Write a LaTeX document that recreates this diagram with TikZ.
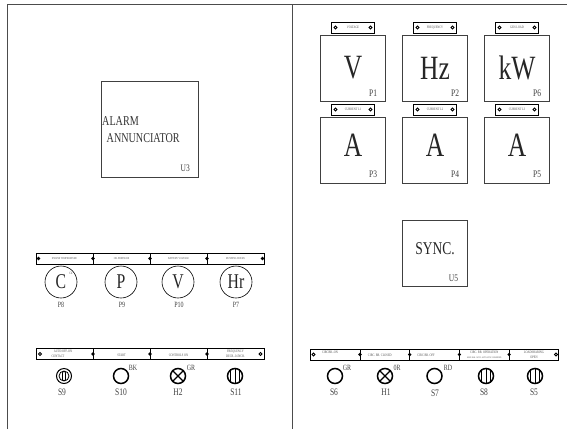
\documentclass[tikz,border=0pt]{standalone}
\usepackage{fontspec}
\setmainfont[FakeStretch=0.75]{Liberation Serif}
\usepackage{tikz}
\usetikzlibrary{positioning}

\tikzset{
	meterbox/.style = {draw=black!75, line width=0.7pt, rectangle, minimum width=64.5pt, minimum height=66pt, outer sep=0pt, inner sep=0pt, text=black!85, font=\fontsize{34}{34}\selectfont},
	tagplate/.style = {draw=black, line width=0.7pt, rectangle, minimum width=42.5pt, minimum height=11pt, outer sep=0pt, inner sep=0pt, text=black!70, font=\fontsize{3.6}{4}\selectfont},
	stripcell/.style = {draw=black, line width=0.7pt, rectangle, minimum height=11pt, outer sep=0pt, inner sep=0pt, align=center, text=black!70, font=\fontsize{3.7}{4.6}\selectfont},
	dial/.style = {draw=black, line width=0.6pt, circle, minimum size=32pt, inner sep=0pt, text=black!85, font=\fontsize{21}{21}\selectfont},
	pushbtn/.style = {draw=black, line width=1.5pt, circle, minimum size=15pt, inner sep=0pt},
	tagname/.style = {inner sep=0pt, text=black!75, font=\fontsize{10}{11}\selectfont},
	colourname/.style = {inner sep=0pt, text=black!75, font=\fontsize{8}{9}\selectfont},
	ringscrew/.style = {draw=black, fill=white, line width=0.9pt, circle, minimum size=3pt, inner sep=0pt},
	dotscrew/.style = {fill=black, circle, minimum size=3.6pt, inner sep=0pt}
}

\begin{document}
\begin{tikzpicture}[x=1pt, y=-1pt]
	\useasboundingbox (0,0) rectangle (567,429);
	% panel frame
	\coordinate (fa) at (7,429);
	\coordinate (fb) at (7,4);
	\coordinate (fc) at (567,4);
	\coordinate (fd) at (292.5,4);
	\coordinate (fe) at (292.5,429);
	\draw[black!70, line width=0.8pt] (fa) -- (fb) -- (fc);
	\draw[black!70, line width=0.8pt] (fd) -- (fe);

	% annunciator
	\node [meterbox, minimum width=97pt, minimum height=96pt] (u3) at (149.5,129) {};
	\node [inner sep=0pt, text=black!80, font=\fontsize{13.5}{14}\selectfont, anchor=west] (alarm) at (102,121) {ALARM};
	\node [inner sep=0pt, text=black!80, font=\fontsize{13.5}{14}\selectfont, anchor=west] (annun) at (106.5,138) {ANNUNCIATOR};
	\node [tagname, above left=5pt and 8pt of u3.south east] (u3t) {U3};

	% left gauge strip
	\node [stripcell, font=\fontsize{3}{4}\selectfont, minimum width=57pt] (g1) at (64.5,258.5) {ENGINE TEMPERATURE};
	\node [stripcell, font=\fontsize{3}{4}\selectfont, minimum width=57pt, right=0pt of g1] (g2) {OIL PRESSURE};
	\node [stripcell, font=\fontsize{3}{4}\selectfont, minimum width=57pt, right=0pt of g2] (g3) {BATTERY VOLTAGE};
	\node [stripcell, font=\fontsize{3}{4}\selectfont, minimum width=57pt, right=0pt of g3] (g4) {RUNNING HOURS};
	\node [dotscrew] (gs1) at (38.5,258.5) {};
	\node [dotscrew] at (g1.east) {};
	\node [dotscrew] at (g2.east) {};
	\node [dotscrew] at (g3.east) {};
	\node [dotscrew] (gs5) at (262.5,258.5) {};

	\node [dial] (p8) at (61,282) {C};
	\node [dial] (p9) at (121,282) {P};
	\node [dial] (p10) at (178,282) {V};
	\node [dial] (p7) at (236,282) {Hr};
	\node [colourname, font=\fontsize{3.5}{4}\selectfont] (p8c) at (71,273) {C4};
	\node [tagname, font=\fontsize{8}{9}\selectfont] (p8t) at (61,305) {P8};
	\node [tagname, font=\fontsize{8}{9}\selectfont] (p9t) at (122,305) {P9};
	\node [tagname, font=\fontsize{8}{9}\selectfont] (p10t) at (179,305) {P10};
	\node [tagname, font=\fontsize{8}{9}\selectfont] (p7t) at (236,305) {P7};

	% left switch strip
	\node [stripcell, minimum width=57pt] (c1) at (64.5,354) {AUTO/OFF-ON\hspace*{3pt}\\CONTACT\hspace*{13pt}};
	\node [stripcell, minimum width=57pt, right=0pt of c1] (c2) {\\START};
	\node [stripcell, minimum width=57pt, right=0pt of c2] (c3) {\\CONTROLS ON};
	\node [stripcell, minimum width=57pt, right=0pt of c3] (c4) {FREQUENCY\\DECR.-0-INCR.};
	\node [ringscrew] (cs1) at (40,354) {};
	\node [dotscrew] at (c1.east) {};
	\node [dotscrew] at (c2.east) {};
	\node [dotscrew] at (c3.east) {};
	\node [ringscrew] (cs5) at (260.5,354) {};

	\node [pushbtn, line width=1pt] (s9) at (64,376) {};
	\node [draw=black, line width=0.8pt, circle, minimum size=10pt, inner sep=0pt] (s9i) at (64,376) {};
	\node [draw=black, fill=white, line width=0.7pt, rectangle, rounded corners=1pt, minimum width=3pt, minimum height=9pt, inner sep=0pt] (s9k) at (64,376) {};
	\node [pushbtn] (s10) at (121,376) {};
	\node [pushbtn] (h2) at (178,376) {};
	\node [pushbtn] (s11) at (235,376) {};
	\draw[line width=1.1pt] (h2.45) -- (h2.225);
	\draw[line width=1.1pt] (h2.135) -- (h2.315);
	\draw[line width=1.2pt] (s11.120) -- (s11.240);
	\draw[line width=0.6pt] (s11.90) -- (s11.270);
	\draw[line width=1.2pt] (s11.60) -- (s11.300);
	\node [tagname] (s9t) at (62,392) {S9};
	\node [tagname] (s10t) at (121,392) {S10};
	\node [tagname] (h2t) at (178,392) {H2};
	\node [tagname] (s11t) at (236,392) {S11};
	\node [colourname] (s10c) at (133,367.5) {BK};
	\node [colourname] (h2c) at (191,367.5) {GR};

	% meters
	\node [meterbox] (p1) at (353,68) {V};
	\node [meterbox, right=17.5pt of p1] (p2) {Hz};
	\node [meterbox, right=17.5pt of p2] (p6) {kW};
	\node [meterbox, text depth=10pt, below=16pt of p1] (p3) {A};
	\node [meterbox, text depth=10pt, below=16pt of p2] (p4) {A};
	\node [meterbox, text depth=10pt, below=16pt of p6] (p5) {A};
	\node [tagname, above left=4pt and 8pt of p1.south east] (p1t) {P1};
	\node [tagname, above left=4pt and 8pt of p2.south east] (p2t) {P2};
	\node [tagname, above left=4pt and 8pt of p6.south east] (p6t) {P6};
	\node [tagname, above left=5pt and 8pt of p3.south east] (p3t) {P3};
	\node [tagname, above left=5pt and 8pt of p4.south east] (p4t) {P4};
	\node [tagname, above left=5pt and 8pt of p5.south east] (p5t) {P5};

	% meter tags
	\node [tagplate, above=2pt of p1] (v1) {VOLTAGE};
	\node [tagplate, above=2pt of p2] (v2) {FREQUENCY};
	\node [tagplate, above=2pt of p6] (v6) {GEN.LOAD};
	\node [tagplate, above=2pt of p3] (v3) {CURRENT L1};
	\node [tagplate, above=2pt of p4] (v4) {CURRENT L2};
	\node [tagplate, above=2pt of p5] (v5) {CURRENT L3};
	\node [ringscrew, right=1.8pt of v1.west] {};
	\node [ringscrew, left=1.8pt of v1.east] {};
	\node [ringscrew, right=1.8pt of v2.west] {};
	\node [ringscrew, left=1.8pt of v2.east] {};
	\node [ringscrew, right=1.8pt of v6.west] {};
	\node [ringscrew, left=1.8pt of v6.east] {};
	\node [ringscrew, right=1.8pt of v3.west] {};
	\node [ringscrew, left=1.8pt of v3.east] {};
	\node [ringscrew, right=1.8pt of v4.west] {};
	\node [ringscrew, left=1.8pt of v4.east] {};
	\node [ringscrew, right=1.8pt of v5.west] {};
	\node [ringscrew, left=1.8pt of v5.east] {};

	% synchroscope
	\node [meterbox, text depth=9pt, font=\fontsize{18}{18}\selectfont] (u5) at (435,253.5) {SYNC.};
	\node [tagname, above left=5pt and 9pt of u5.south east] (u5t) {U5};

	% right switch strip
	\node [stripcell, minimum width=50pt] (r1) at (335,354.5) {CIRCBR.-ON\hspace*{10pt}\\ };
	\node [stripcell, minimum width=49.7pt, right=0pt of r1] (r2) {\\CIRC. BR. CLOSED\hspace*{10pt}};
	\node [stripcell, minimum width=49.7pt, right=0pt of r2] (r3) {\\CIRC BR. OFF\hspace*{17pt}};
	\node [stripcell, minimum width=49.7pt, right=0pt of r3] (r4) {CIRC. BR. OPERATION\\{\fontsize{2.3}{3}\selectfont MAN. BLK. AUTO. AUTO-SYNC. RESERVED}};
	\node [stripcell, minimum width=49.7pt, right=0pt of r4] (r5) {LOADSHARING\\OPEN};
	\node [ringscrew] (rs1) at (313.5,354.5) {};
	\node [dotscrew] at (r1.east) {};
	\node [dotscrew] at (r2.east) {};
	\node [dotscrew] at (r3.east) {};
	\node [dotscrew] at (r4.east) {};
	\node [ringscrew] (rs6) at (556,354.5) {};

	\node [pushbtn] (s6) at (335,376) {};
	\node [pushbtn] (h1) at (385,376) {};
	\node [pushbtn] (s7) at (434.5,376) {};
	\node [pushbtn] (s8) at (486,376) {};
	\node [pushbtn] (s5) at (535,376) {};
	\draw[line width=1.1pt] (h1.45) -- (h1.225);
	\draw[line width=1.1pt] (h1.135) -- (h1.315);
	\draw[line width=1.2pt] (s8.120) -- (s8.240);
	\draw[line width=0.6pt] (s8.90) -- (s8.270);
	\draw[line width=1.2pt] (s8.60) -- (s8.300);
	\draw[line width=1.2pt] (s5.120) -- (s5.240);
	\draw[line width=0.6pt] (s5.90) -- (s5.270);
	\draw[line width=1.2pt] (s5.60) -- (s5.300);
	\node [tagname] (s6t) at (334,392) {S6};
	\node [tagname] (h1t) at (386,392) {H1};
	\node [tagname] (s7t) at (435,393) {S7};
	\node [tagname] (s8t) at (484,392) {S8};
	\node [tagname] (s5t) at (534,392) {S5};
	\node [colourname] (s6c) at (347,367.5) {GR};
	\node [colourname] (h1c) at (397,367.5) {0R};
	\node [colourname] (s7c) at (448,367.5) {RD};
\end{tikzpicture}
\end{document}
